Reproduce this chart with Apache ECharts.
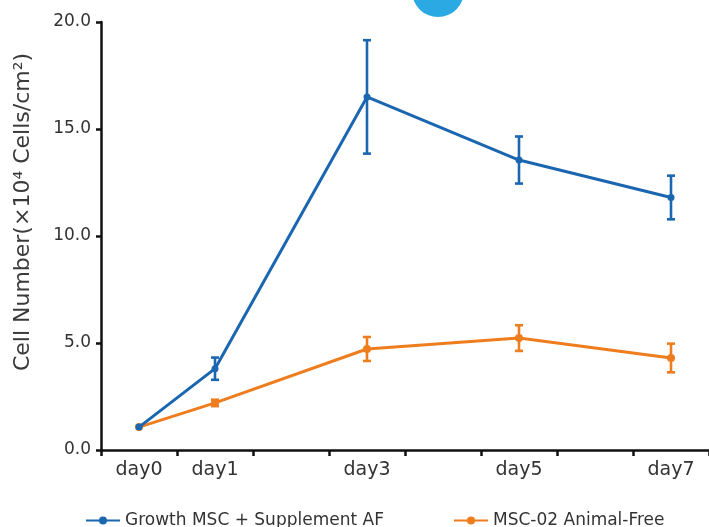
<!DOCTYPE html>
<html>
<head>
<meta charset="utf-8">
<script src="https://cdn.jsdelivr.net/npm/echarts@6/dist/echarts.min.js"></script>
<style>html,body{margin:0;padding:0;background:#fff;}#main{width:709px;height:527px;}</style>
</head>
<body>
<div id="main"></div>
<script>
const categories = ['day0','day1','day2','day3','day4','day5','day6','day7'];
const shownLabels = ['day0','day1','day3','day5','day7'];
const seriesNames = ['Growth MSC + Supplement AF', 'MSC-02 Animal-Free'];
const growthMean = [1.07, 3.8, null, 16.5, null, 13.55, null, 11.8];
const growthErr  = [0, 0.52, null, 2.65, null, 1.1, null, 1.02];
const msc02Mean  = [1.07, 2.2, null, 4.72, null, 5.23, null, 4.3];
const msc02Err   = [0, 0.15, null, 0.56, null, 0.6, null, 0.67];
const yTicks = [0, 5, 10, 15, 20];

const BLUE = '#1b66b1';
const ORANGE = '#ef7d1e';
const FONT = 'DejaVu Sans';

function errData(mean, err) {
  const out = [];
  mean.forEach((m, i) => {
    if (m !== null && err[i]) out.push([i, m - err[i], m + err[i]]);
  });
  return out;
}
function errSeries(name, mean, err, color) {
  return {
    type: 'custom',
    name: name,
    data: errData(mean, err),
    z: 5,
    renderItem: function (params, api) {
      const x = api.value(0);
      const lo = api.coord([x, api.value(1)]);
      const hi = api.coord([x, api.value(2)]);
      const w = 4;
      const st = { stroke: color, lineWidth: 2.6 };
      return {
        type: 'group',
        children: [
          { type: 'line', shape: { x1: lo[0], y1: lo[1], x2: hi[0], y2: hi[1] }, style: st },
          { type: 'line', shape: { x1: lo[0] - w, y1: lo[1], x2: lo[0] + w, y2: lo[1] }, style: st },
          { type: 'line', shape: { x1: hi[0] - w, y1: hi[1], x2: hi[0] + w, y2: hi[1] }, style: st }
        ]
      };
    }
  };
}

const legendText = { fontFamily: FONT, fontSize: 17, color: '#333' };
const chart = echarts.init(document.getElementById('main'), null, { renderer: 'canvas' });
chart.setOption({
  animation: false,
  backgroundColor: '#fff',
  textStyle: { fontFamily: FONT },
  graphic: [{
    type: 'circle',
    shape: { cx: 438, cy: -9, r: 26 },
    style: { fill: '#2aa9e2' },
    z: 1
  }],
  grid: { left: 101, right: 0, top: 22, bottom: 77 },
  legend: [
    { top: 507, left: 80, itemWidth: 34, itemHeight: 10, itemGap: 6,
      textStyle: legendText, data: [seriesNames[0]] },
    { top: 507, left: 448, itemWidth: 34, itemHeight: 10, itemGap: 6,
      textStyle: legendText, data: [seriesNames[1]] }
  ],
  xAxis: {
    type: 'category',
    data: categories,
    boundaryGap: true,
    axisLine: { lineStyle: { color: '#111', width: 2.5 } },
    axisTick: { show: true, interval: 0, length: 6, lineStyle: { color: '#111', width: 2.5 } },
    axisLabel: {
      interval: function (idx, val) { return shownLabels.indexOf(val) >= 0; },
      margin: 11,
      fontFamily: FONT, fontSize: 19, color: '#333'
    }
  },
  yAxis: {
    type: 'value',
    min: yTicks[0], max: yTicks[yTicks.length - 1], interval: 5,
    name: 'Cell Number(×10⁴ Cells/cm²)',
    nameLocation: 'middle',
    nameGap: 67,
    nameTextStyle: { fontFamily: FONT, fontSize: 22, color: '#3a3a3a', padding: [0, 0, 0, 48] },
    axisLine: { show: true, lineStyle: { color: '#111', width: 2.5 } },
    axisTick: { show: true, length: 5, lineStyle: { color: '#111', width: 2.5 } },
    splitLine: { show: false },
    axisLabel: {
      formatter: function (v) { return v.toFixed(1); },
      margin: 10,
      fontFamily: FONT, fontSize: 17, color: '#333'
    }
  },
  series: [
    {
      name: seriesNames[0], type: 'line', data: growthMean, connectNulls: true,
      color: BLUE, symbol: 'circle', symbolSize: 7,
      lineStyle: { width: 3, color: BLUE }, itemStyle: { color: BLUE }, z: 4
    },
    {
      name: seriesNames[1], type: 'line', data: msc02Mean, connectNulls: true,
      color: ORANGE, symbol: 'circle', symbolSize: 8,
      lineStyle: { width: 3, color: ORANGE }, itemStyle: { color: ORANGE }, z: 3
    },
    errSeries(seriesNames[0], growthMean, growthErr, BLUE),
    errSeries(seriesNames[1], msc02Mean, msc02Err, ORANGE)
  ]
});
</script>
</body>
</html>
